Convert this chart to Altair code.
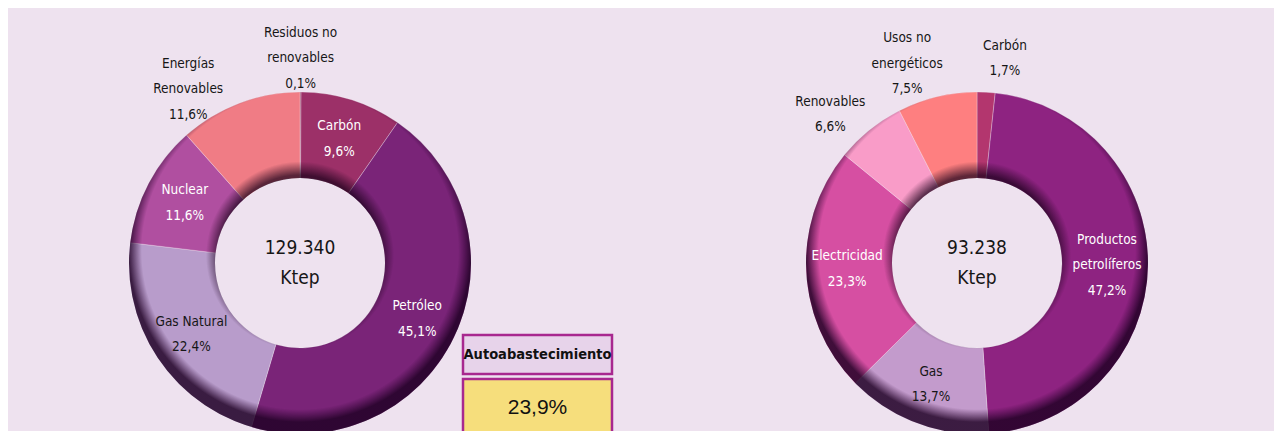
import math
import pandas as pd
import altair as alt

# ---------------- data ----------------
# Left donut: origen de la energía primaria (%)
prim_cats = ["Residuos no\nrenovables", "Carbón", "Petróleo", "Gas Natural", "Nuclear", "Energías\nRenovables"]
prim_vals = [0.1, 9.6, 45.1, 22.4, 11.6, 11.6]
prim_total = 129340
total_unit = "Ktep"

# Right donut: consumo de energía final (%)
fin_cats = ["Carbón", "Productos\npetrolíferos", "Gas", "Electricidad", "Renovables", "Usos no\nenergéticos"]
fin_vals = [1.7, 47.2, 13.7, 23.3, 6.6, 7.5]
fin_total = 93238

auto_label = "Autoabastecimiento"
auto_value = 23.9

# ---------------- styles ----------------
BG = "#EEE2EF"
prim_colors = ["#8A1F4F", "#9C3068", "#7A2478", "#B89CCB", "#B04FA0", "#F07C85"]
prim_tcolors = ["#161616", "#FFFFFF", "#FFFFFF", "#161616", "#FFFFFF", "#161616"]
prim_outside = [True, False, False, False, False, True]
prim_nudge = {0: (0, 0), 5: (-39, 18)}

fin_colors = ["#B3366E", "#8E2381", "#C39BCC", "#D64FA2", "#F99CC8", "#FE7F80"]
fin_tcolors = ["#161616", "#FFFFFF", "#161616", "#FFFFFF", "#161616", "#161616"]
fin_outside = [True, False, False, False, True, True]
fin_nudge = {0: (17, 0), 4: (-18, 11), 5: (-22, 0)}

FONT = "DejaVu Sans Condensed, Liberation Sans Narrow, Roboto, sans-serif"
LAB_SIZE = 13.5
LH = 25.5
R_OUT, R_IN = 171, 85
R_LAB_IN, R_LAB_OUT = 130, 205
LEFT_C = (292, 255)
RIGHT_C = (969, 255)


def pct(v):
    return f"{v:.1f}".replace(".", ",") + "%"


def thousands(v):
    return f"{v:,}".replace(",", ".")


def frame(cats, vals, colors, tcolors, outside):
    labels = [f"{c}\n{pct(v)}" for c, v in zip(cats, vals)]
    return pd.DataFrame({
        "cat": cats,
        "value": vals,
        "order": list(range(len(cats))),
        "label": labels,
        "nlines": [l.count("\n") + 1 for l in labels],
        "fill": colors,
        "tcolor": tcolors,
        "outside": outside,
    })


def donut(df, center, total, nudges):
    cx, cy = center
    base = alt.Chart(df)
    theta = alt.Theta("value:Q", stack="normalize")
    order = alt.Order("order:Q")
    pos = dict(x=alt.value(cx), y=alt.value(cy))

    arcs = base.mark_arc(
        innerRadius=R_IN, outerRadius=R_OUT,
        stroke="#F6EEF6", strokeWidth=0.7, strokeOpacity=0.45,
    ).encode(theta=theta, order=order, color=alt.Color("fill:N", scale=None), **pos)

    one = alt.Chart(pd.DataFrame({"k": [0]}))
    outer_shade = one.mark_arc(
        innerRadius=R_IN, outerRadius=R_OUT, theta=0, theta2=2 * math.pi,
        fill={
            "gradient": "radial",
            "x1": 0.5, "y1": 0.465, "r1": 0,
            "x2": 0.5, "y2": 0.465, "r2": 0.5,
            "stops": [
                {"offset": 0, "color": "rgba(40,0,45,0)"},
                {"offset": 0.925, "color": "rgba(40,0,45,0)"},
                {"offset": 1, "color": "rgba(30,0,35,0.82)"},
            ],
        },
    ).encode(**pos)
    inner_shade = one.mark_arc(
        innerRadius=R_IN, outerRadius=R_OUT, theta=0, theta2=2 * math.pi,
        fill={
            "gradient": "radial",
            "x1": 0.5, "y1": 0.478, "r1": 0,
            "x2": 0.5, "y2": 0.478, "r2": 0.5,
            "stops": [
                {"offset": 0, "color": "rgba(25,0,25,0.85)"},
                {"offset": 0.47, "color": "rgba(25,0,25,0.7)"},
                {"offset": 0.55, "color": "rgba(25,0,25,0)"},
                {"offset": 1, "color": "rgba(25,0,25,0)"},
            ],
        },
    ).encode(**pos)

    txt = dict(font=FONT, fontSize=LAB_SIZE, lineBreak="\n", lineHeight=LH,
               align="center", baseline="middle")

    layers = [arcs, outer_shade, inner_shade]
    inside_counts = sorted(set(df.loc[~df["outside"], "nlines"]))
    for n in inside_counts:
        layers.append(
            base.transform_calculate(
                t=f"(!datum.outside && datum.nlines == {n}) ? datum.label : ''"
            ).mark_text(radius=R_LAB_IN, dy=-(n - 1) * LH / 2, **txt).encode(
                theta=theta, order=order, text="t:N",
                color=alt.Color("tcolor:N", scale=None), **pos)
        )
    for k, (dx, dy) in nudges.items():
        n = int(df.loc[k, "nlines"])
        layers.append(
            base.transform_calculate(
                t=f"datum.order == {k} ? datum.label : ''"
            ).mark_text(radius=R_LAB_OUT, dx=dx, dy=dy - (n - 1) * LH / 2, **txt).encode(
                theta=theta, order=order, text="t:N",
                color=alt.Color("tcolor:N", scale=None), **pos)
        )

    center = alt.Chart(pd.DataFrame({"t": [f"{thousands(total)}\n{total_unit}"]})).mark_text(
        font=FONT, fontSize=19, lineBreak="\n", lineHeight=30, dy=-15,
        align="center", baseline="middle", color="#161616",
    ).encode(text="t:N", **pos)
    layers.append(center)
    return layers


left = donut(frame(prim_cats, prim_vals, prim_colors, prim_tcolors, prim_outside), LEFT_C, prim_total, prim_nudge)
right = donut(frame(fin_cats, fin_vals, fin_colors, fin_tcolors, fin_outside), RIGHT_C, fin_total, fin_nudge)

# Autoabastecimiento boxes
box_df = pd.DataFrame({"head": [auto_label], "val": [pct(auto_value)]})
box = alt.Chart(box_df)
head_rect = box.mark_rect(fill="#E7D3EA", stroke="#A8288F", strokeWidth=2.5).encode(
    x=alt.value(455), x2=alt.value(604), y=alt.value(327), y2=alt.value(366))
head_text = box.mark_text(font=FONT, fontSize=14.5,
                          fontWeight="bold", color="#111111").encode(
    text="head:N", x=alt.value(529.5), y=alt.value(347))
val_rect = box.mark_rect(fill="#F6DE7C", stroke="#A8288F", strokeWidth=2.5).encode(
    x=alt.value(455), x2=alt.value(604), y=alt.value(371), y2=alt.value(428))
val_text = box.mark_text(font="Liberation Sans, Arial, sans-serif", fontSize=21,
                         color="#111111").encode(
    text="val:N", x=alt.value(529.5), y=alt.value(400))

chart = alt.layer(*left, *right, head_rect, head_text, val_rect, val_text).properties(
    width=1266, height=423, background=BG, padding=0,
    autosize=alt.AutoSizeParams(type="none"),
).configure_view(stroke=None)

chart.save("out.html", embed_options={"renderer": "svg", "actions": False})
